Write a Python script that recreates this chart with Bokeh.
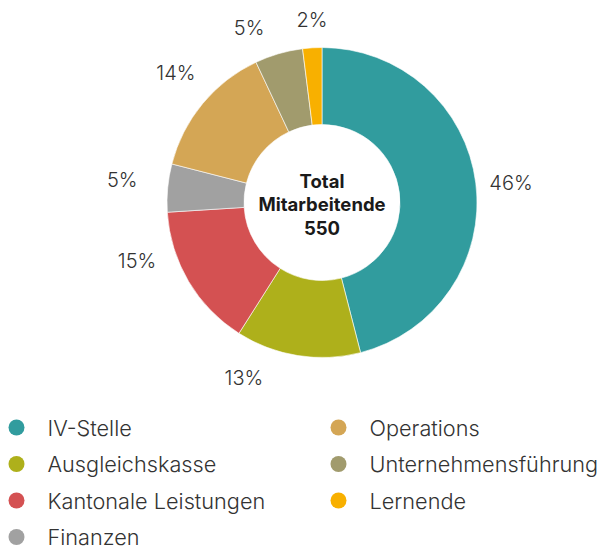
import math
from bokeh.plotting import figure
from bokeh.models import Range1d, ColumnDataSource
from bokeh.core.properties import value
from bokeh.embed import file_html
from bokeh.resources import INLINE

categories = ["IV-Stelle", "Ausgleichskasse", "Kantonale Leistungen", "Finanzen",
              "Operations", "Unternehmensführung", "Lernende"]
shares = [46, 13, 15, 5, 14, 5, 2]
colors = ["#319C9E", "#AEB01B", "#D45152", "#A1A1A1", "#D4A655", "#A19B6D", "#F8B000"]
total_label = ["Total", "Mitarbeitende", "550"]

# layout (page pixel coordinates: x right, y measured from top)
W, H = 602, 549
CX, CY = 321.5, 202
R_OUT, R_IN = 155, 78
label_shift_deg = [1.3, 15.0, 13.0, 0.9, 1.9, -6.5, 0.5]
label_radius = [190, 192, 194, 201, 195, 189, 183]
FONT = value("Inter Light, Inter")


def py(y):
    return H - y


p = figure(width=W, height=H, output_backend="svg", toolbar_location=None,
           x_range=Range1d(0, W), y_range=Range1d(0, H),
           min_border=0, outline_line_color=None)
p.axis.visible = False
p.grid.visible = False
p.background_fill_color = "white"
p.border_fill_color = "white"

tot = sum(shares)
starts, ends, mids = [], [], []
cum = 0.0
for s in shares:
    a0 = cum / tot
    cum += s
    a1 = cum / tot
    starts.append(math.pi / 2 - 2 * math.pi * a0)
    ends.append(math.pi / 2 - 2 * math.pi * a1)
    mids.append((a0 + a1) / 2 * 360)

src = ColumnDataSource(dict(start=starts, end=ends, color=colors))
p.annular_wedge(x=CX, y=py(CY), inner_radius=R_IN, outer_radius=R_OUT,
                start_angle="start", end_angle="end", direction="clock",
                fill_color="color", line_color="white", line_width=0.6, source=src)

# percentage labels
lx, ly, lt = [], [], []
for i, s in enumerate(shares):
    ang = math.radians(mids[i] + label_shift_deg[i])
    r = label_radius[i]
    lx.append(CX + r * math.sin(ang))
    ly.append(py(CY - r * math.cos(ang)))
    lt.append(f"{round(100 * s / tot)}%")
p.text(x=lx, y=ly, text=lt, text_align="center", text_baseline="middle",
       text_font=FONT, text_font_size="20px", text_color="#333333")

# center text
p.text(x=[CX] * 3, y=[py(CY - 22), py(CY + 1), py(CY + 25)], text=total_label,
       text_align="center", text_baseline="middle", text_font=value("Inter"),
       text_font_style="bold", text_font_size="18.5px", text_color="#1a1a1a")

# legend
rows = 4
col_x = [16, 338]
row_y0, row_dy = 427, 36.5
mx, my, tx, ty = [], [], [], []
for i, c in enumerate(categories):
    col, row = divmod(i, rows)
    mx.append(col_x[col])
    my.append(py(row_y0 + row * row_dy))
    tx.append(col_x[col] + 31)
    ty.append(py(row_y0 + row * row_dy))
p.scatter(x=mx, y=my, size=16, marker="circle", fill_color=colors, line_color=None)
p.text(x=tx, y=ty, text=categories, text_align="left", text_baseline="middle",
       text_font=FONT, text_font_size="21.7px", text_color="#333333")

open("out.html", "w").write(file_html(p, INLINE))
